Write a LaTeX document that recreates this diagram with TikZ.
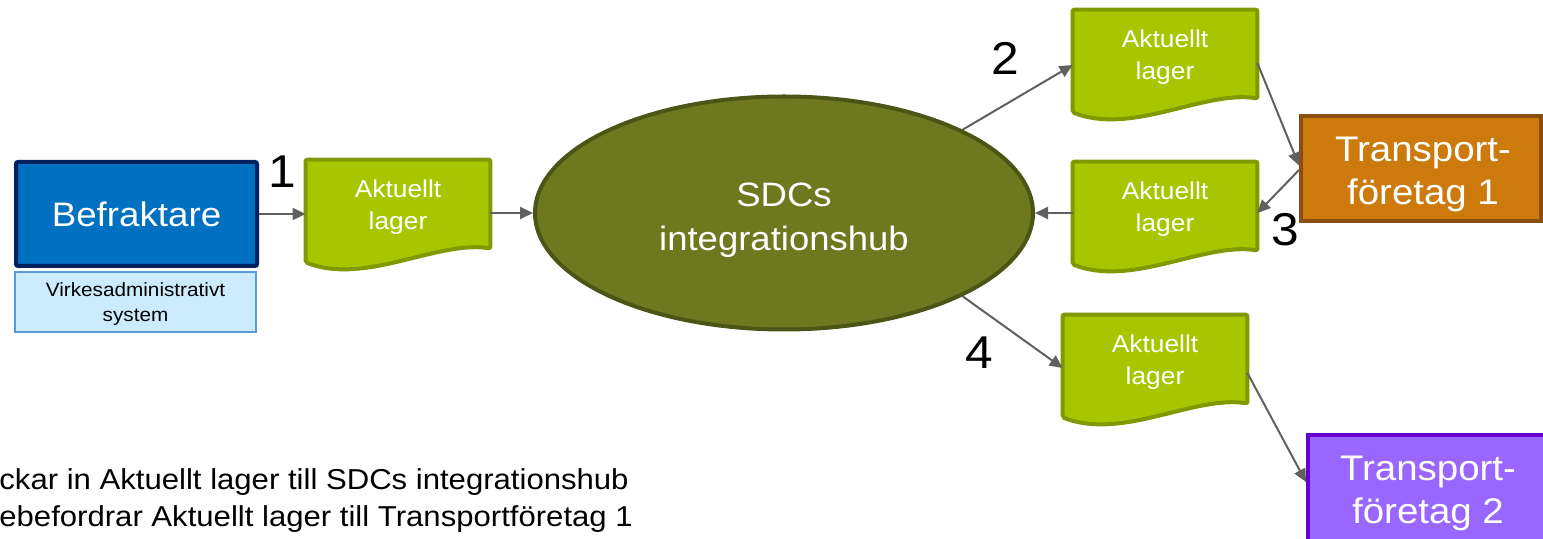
\documentclass[tikz,border=0pt]{standalone}
\usepackage{fontspec}
\setmainfont{Liberation Sans}[FakeStretch=1.08]
\usetikzlibrary{shapes.geometric,arrows.meta,calc,backgrounds}
\definecolor{befill}{HTML}{0070C0}
\definecolor{beline}{HTML}{002060}
\definecolor{vafill}{HTML}{CCEBFD}
\definecolor{valine}{HTML}{5B9BD5}
\definecolor{docfill}{HTML}{A8C600}
\definecolor{docline}{HTML}{7F9A00}
\definecolor{hubfill}{HTML}{6E781F}
\definecolor{hubline}{HTML}{4A5516}
\definecolor{tafill}{HTML}{CC7A0C}
\definecolor{taline}{HTML}{8A4E10}
\definecolor{tbfill}{HTML}{9966FF}
\definecolor{tbline}{HTML}{6600CC}
\definecolor{arrcol}{HTML}{606060}
\newcommand\mydocshape[1]{%
  \begin{scope}[on background layer]
    \draw[docbody] ($(#1.north west)+(0,-3)$) -- ($(#1.north east)+(0,-3)$) -- ($(#1.south east)+(0,-3)$)
      .. controls ($(#1.south east)+(-54,-11)$) and ($(#1.south west)+(60,34)$) ..
      ($(#1.south west)+(0,11)$) -- cycle;
  \end{scope}}
\begin{document}
\begin{tikzpicture}[x=0.5pt,y=-0.5pt,
  conn/.style={draw=arrcol,line width=1pt,-{Triangle[length=6.5pt,width=6pt]}},
  docnode/.style={minimum width=92pt,minimum height=44pt,inner sep=0pt,text=white,
    font=\fontsize{12.2}{16}\selectfont,align=center},
  docbody/.style={fill=docfill,draw=docline,line width=2pt,rounded corners=1pt},
  befr/.style={rectangle,fill=befill,draw=beline,line width=2pt,rounded corners=1pt,
    minimum width=120.5pt,minimum height=52pt,inner sep=0pt,text=white,
    font=\fontsize{17}{20}\selectfont},
  virk/.style={rectangle,fill=vafill,draw=valine,line width=0.6pt,
    minimum width=120.5pt,minimum height=30pt,inner sep=0pt},
  virktext/.style={text=black,font=\fontsize{9.6}{12.5}\selectfont,align=center,inner sep=0pt},
  hub/.style={ellipse,fill=hubfill,draw=hubline,line width=2pt,
    minimum width=249pt,minimum height=116.5pt,inner sep=0pt},
  hubtext/.style={text=white,font=\fontsize{16.9}{22}\selectfont,align=center,inner sep=0pt},
  tbox/.style={rectangle,line width=2pt,minimum width=120pt,inner sep=0pt},
  ttext/.style={text=white,font=\fontsize{17.8}{21.5}\selectfont,align=center,inner sep=0pt},
  num/.style={text=black,font=\fontsize{23}{26}\selectfont,inner sep=0pt},
  note/.style={text=black,font=\fontsize{14.4}{18}\selectfont,inner sep=0pt,anchor=base west}
]
\useasboundingbox (0,0) rectangle (1543,539);
\clip (0,0) rectangle (1543,539);

% left side
\node[befr] (befr) at (136.5,214) {Befraktare};
\node[virk] (virk) at (135.5,302) {};
\node[virktext] (virktxt) at (135.5,304.5) {Virkesadministrativt\\system};

% documents (text centres 3px below the shape centre)
\node[docnode] (doc1) at (398,207) {Aktuellt\\lager};
\mydocshape{doc1}
\node[docnode] (doc2) at (1165,57) {Aktuellt\\lager};
\mydocshape{doc2}
\node[docnode] (doc3) at (1165,209) {Aktuellt\\lager};
\mydocshape{doc3}
\node[docnode] (doc4) at (1155,362) {Aktuellt\\lager};
\mydocshape{doc4}

% hub
\node[hub] (hub) at (784,213) {};
\node[hubtext] (hubtxt) at (784,220) {SDCs\\integrationshub};

% transport companies
\node[tbox,fill=tafill,draw=taline,minimum height=52.5pt] (t1) at (1421,168.5) {};
\node[ttext] (t1txt) at (1423,174) {Transport-\\företag 1};
\node[tbox,fill=tbfill,draw=tbline,minimum height=55pt,minimum width=121pt] (t2) at (1429,490) {};
\node[ttext] (t2txt) at (1428,493) {Transport-\\företag 2};

% numbers
\node[num] (n1) at (282,171.5) {1};
\node[num] (n2) at (1005,58) {2};
\node[num] (n3) at (1285,230) {3};
\node[num] (n4) at (979,353) {4};

% connectors
\draw[conn] (befr.east) -- (befr.east -| doc1.west);
\draw[conn] (hub.west -| doc1.east) -- (hub.west);
\draw[conn] (hub.25) -- ([yshift=-4pt]doc2.west);
\draw[conn] (doc3.west |- hub.east) -- (hub.east);
\draw[conn] ([yshift=-3pt]doc2.east) -- ([yshift=1.5pt]t1.west);
\draw[conn] ([yshift=-0.75pt]t1.west) -- (doc3.east |- hub.east);
\draw[conn] (hub.-25) -- ([yshift=-3pt]doc4.west);
\draw[conn] ([yshift=-5.5pt]doc4.east) -- ([yshift=4pt]t2.west);

% bottom notes
\node[note] (note1) at (-1,490) {ckar in Aktuellt lager till SDCs integrationshub};
\node[note] (note2) at (-1,527) {ebefordrar Aktuellt lager till Transportföretag 1};
\end{tikzpicture}
\end{document}
